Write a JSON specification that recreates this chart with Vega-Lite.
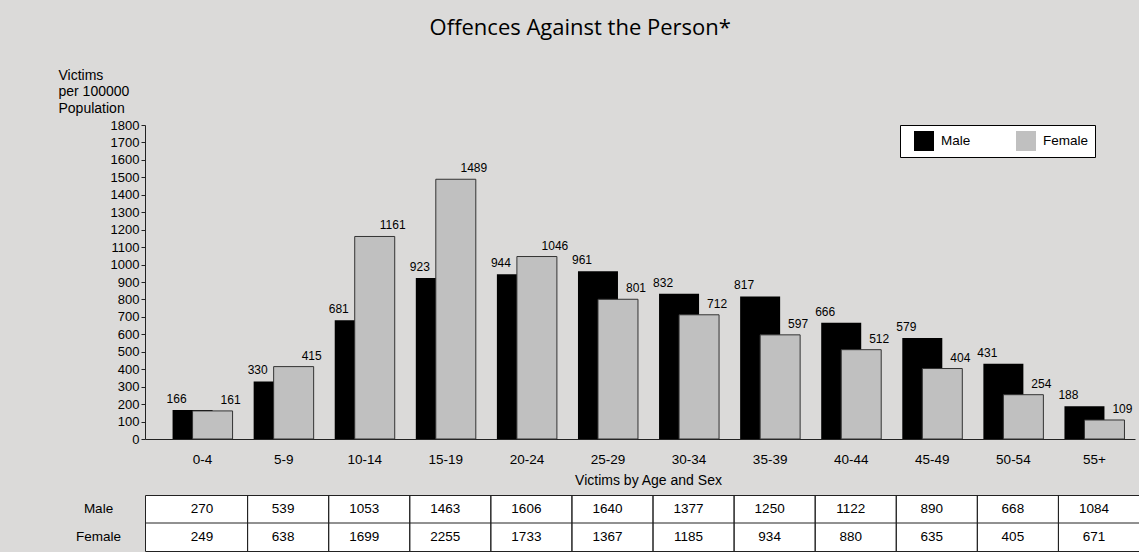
{
  "$schema": "https://vega.github.io/schema/vega-lite/v6.json",
  "background": "#dbdad9",
  "padding": {"left": 58, "top": 17, "right": 0, "bottom": 0},
  "title": {
    "text": "Offences Against the Person*",
    "font": "Open Sans",
    "fontSize": 22,
    "fontWeight": "normal",
    "color": "#000",
    "anchor": "middle",
    "dx": -19,
    "offset": 28
  },
  "config": {
    "font": "Liberation Sans",
    "view": {"stroke": null},
    "axis": {"labelColor": "#000", "titleColor": "#000", "domainColor": "#222", "tickColor": "#222", "grid": false, "titleFontWeight": "normal"}
  },
  "data": {
    "values": [
      {"age": "0-4", "sex": "Male", "rate": 166, "victims": 270},
      {"age": "0-4", "sex": "Female", "rate": 161, "victims": 249},
      {"age": "5-9", "sex": "Male", "rate": 330, "victims": 539},
      {"age": "5-9", "sex": "Female", "rate": 415, "victims": 638},
      {"age": "10-14", "sex": "Male", "rate": 681, "victims": 1053},
      {"age": "10-14", "sex": "Female", "rate": 1161, "victims": 1699},
      {"age": "15-19", "sex": "Male", "rate": 923, "victims": 1463},
      {"age": "15-19", "sex": "Female", "rate": 1489, "victims": 2255},
      {"age": "20-24", "sex": "Male", "rate": 944, "victims": 1606},
      {"age": "20-24", "sex": "Female", "rate": 1046, "victims": 1733},
      {"age": "25-29", "sex": "Male", "rate": 961, "victims": 1640},
      {"age": "25-29", "sex": "Female", "rate": 801, "victims": 1367},
      {"age": "30-34", "sex": "Male", "rate": 832, "victims": 1377},
      {"age": "30-34", "sex": "Female", "rate": 712, "victims": 1185},
      {"age": "35-39", "sex": "Male", "rate": 817, "victims": 1250},
      {"age": "35-39", "sex": "Female", "rate": 597, "victims": 934},
      {"age": "40-44", "sex": "Male", "rate": 666, "victims": 1122},
      {"age": "40-44", "sex": "Female", "rate": 512, "victims": 880},
      {"age": "45-49", "sex": "Male", "rate": 579, "victims": 890},
      {"age": "45-49", "sex": "Female", "rate": 404, "victims": 635},
      {"age": "50-54", "sex": "Male", "rate": 431, "victims": 668},
      {"age": "50-54", "sex": "Female", "rate": 254, "victims": 405},
      {"age": "55+", "sex": "Male", "rate": 188, "victims": 1084},
      {"age": "55+", "sex": "Female", "rate": 109, "victims": 671}
    ]
  },
  "resolve": {"scale": {"x": "independent"}},
  "spacing": 6,
  "vconcat": [
    {
      "width": 990,
      "height": 314,
      "encoding": {
        "x": {
          "field": "age", "type": "nominal",
          "sort": ["0-4","5-9","10-14","15-19","20-24","25-29","30-34","35-39","40-44","45-49","50-54","55+"],
          "scale": {"paddingInner": 0, "paddingOuter": 0.105, "align": 1},
          "axis": {"title": "Victims by Age and Sex", "titleFontSize": 14, "titleX": 503, "labelFontSize": 13.5, "labelAngle": 0, "ticks": false, "labelPadding": 13, "titlePadding": 8}
        },
        "y": {
          "field": "rate", "type": "quantitative",
          "scale": {"domain": [0, 1800], "nice": false},
          "axis": {
            "title": ["Victims", "per 100000", "Population"],
            "titleAngle": 0, "titleAlign": "left", "titleBaseline": "top",
            "titleX": -87, "titleY": -57, "titleFontSize": 14, "titleLineHeight": 16.5,
            "labelFontSize": 13, "tickSize": 4, "labelPadding": 2, "format": "d",
            "values": [0,100,200,300,400,500,600,700,800,900,1000,1100,1200,1300,1400,1500,1600,1700,1800]
          }
        }
      },
      "layer": [
        {
          "transform": [{"filter": "datum.sex == 'Male'"}],
          "mark": {"type": "bar", "width": 40, "xOffset": -10},
          "encoding": {
            "color": {
              "field": "sex", "type": "nominal",
              "scale": {"domain": ["Male", "Female"], "range": ["#000000", "#c0c0c0"]},
              "legend": {
                "title": null, "orient": "none", "legendX": 755, "legendY": 0,
                "direction": "horizontal", "columns": 2,
                "fillColor": "#ffffff", "strokeColor": "#000000",
                "padding": 6, "symbolOffset": 8,
                "symbolType": "square", "symbolSize": 400, "symbolStrokeWidth": 0,
                "labelFontSize": 13.5, "labelColor": "#000", "labelOffset": 7,
                "columnPadding": 21, "gridAlign": "all"
              }
            }
          }
        },
        {
          "transform": [{"filter": "datum.sex == 'Female'"}],
          "mark": {"type": "bar", "width": 40, "xOffset": 10, "stroke": "#333333", "strokeWidth": 1},
          "encoding": {
            "color": {"field": "sex", "type": "nominal"}
          }
        },
        {
          "transform": [{"filter": "datum.sex == 'Male'"}],
          "mark": {"type": "text", "dx": -26, "dy": -7, "baseline": "alphabetic", "fontSize": 12, "color": "#000"},
          "encoding": {"text": {"field": "rate", "type": "quantitative"}}
        },
        {
          "transform": [{"filter": "datum.sex == 'Female'"}],
          "mark": {"type": "text", "dx": 28, "dy": -7, "baseline": "alphabetic", "fontSize": 12, "color": "#000"},
          "encoding": {"text": {"field": "rate", "type": "quantitative"}}
        }
      ]
    },
    {
      "width": 994,
      "height": 56,
      "view": {"fill": "#ffffff", "stroke": "#222222"},
      "layer": [
        {
          "mark": {"type": "rule", "color": "#222222", "xOffset": 5},
          "encoding": {
            "x": {
              "field": "age", "type": "nominal", "bandPosition": 1,
              "sort": ["0-4","5-9","10-14","15-19","20-24","25-29","30-34","35-39","40-44","45-49","50-54","55+"],
              "scale": {"paddingInner": 0, "paddingOuter": 0.1295, "align": 0.786},
              "axis": null
            }
          }
        },
        {
          "transform": [{"filter": "datum.sex == 'Male' && datum.age == '0-4'"}],
          "mark": {"type": "rule", "color": "#222222"},
          "encoding": {"y": {"field": "sex", "type": "nominal", "bandPosition": 1, "sort": ["Male", "Female"]}}
        },
        {
          "mark": {"type": "text", "fontSize": 13.5, "color": "#000"},
          "encoding": {
            "x": {
              "field": "age", "type": "nominal",
              "sort": ["0-4","5-9","10-14","15-19","20-24","25-29","30-34","35-39","40-44","45-49","50-54","55+"],
              "axis": null
            },
            "y": {
              "field": "sex", "type": "nominal", "sort": ["Male", "Female"],
              "scale": {"domain": ["Male", "Female"], "paddingInner": 0, "paddingOuter": 0},
              "axis": {"title": null, "domain": false, "ticks": false, "labelAlign": "center", "labelPadding": 47, "labelFontSize": 13.5}
            },
            "text": {"field": "victims", "type": "quantitative"}
          }
        }
      ]
    }
  ]
}
